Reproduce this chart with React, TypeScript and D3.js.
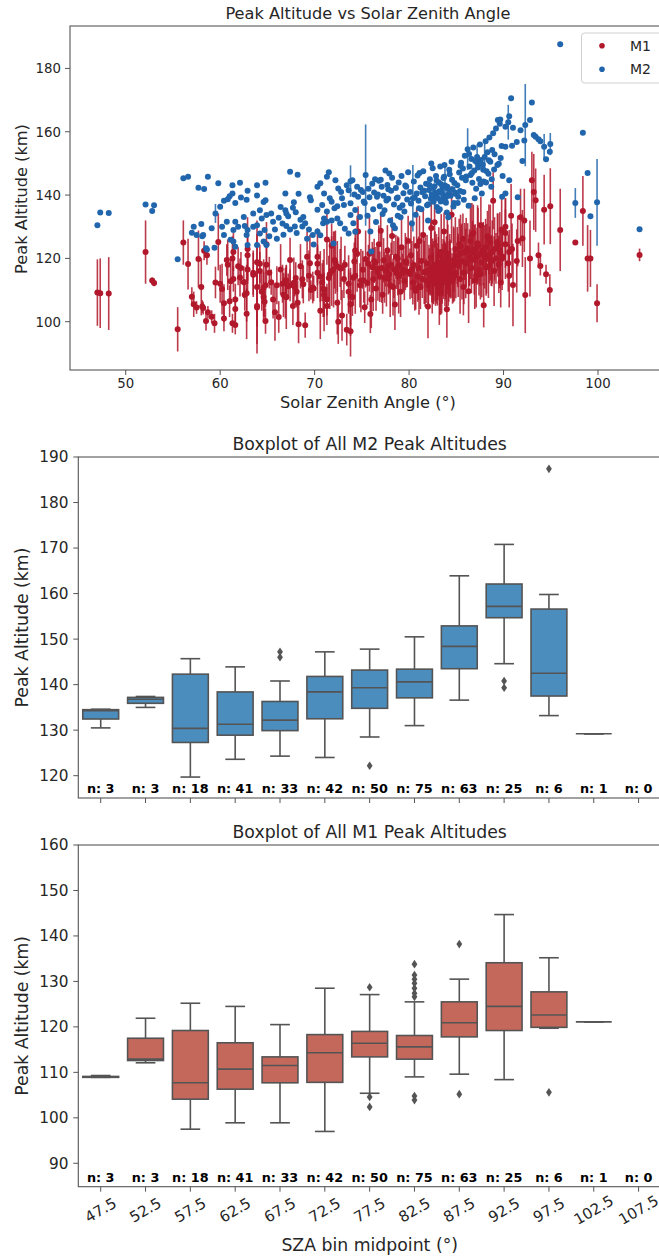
import React from "react";
import * as d3 from "d3";

// [SZA, M1 altitude, M1 error, M2 altitude, M2 error]
const OBS: number[][] = [
  [47.0, 109.2, 10.5, 130.5, 0], [47.3, 109.0, 11, 134.5, 0], [48.2, 108.9, 11.5, 134.3, 0],
  [52.1, 122.0, 10, 137.0, 0], [52.8, 113.0, 1, 135.0, 0], [53.0, 112.2, 1, 136.8, 0],
  [55.5, 97.6, 7, 119.7, 0], [56.1, 125.0, 7, 145.3, 0], [56.6, 118.2, 8, 145.8, 0],
  [57.0, 107.9, 3, 128.1, 0], [57.2, 105.5, 4, 130.0, 0], [57.5, 104.5, 2, 127.4, 0],
  [57.7, 119.8, 9, 142.3, 0], [58.0, 111.0, 9, 130.9, 0], [58.1, 104.8, 2, 127.0, 0],
  [58.2, 104.3, 2, 127.4, 0], [58.3, 122.4, 3, 141.9, 0], [58.5, 100.2, 3, 123.2, 0],
  [58.6, 121.0, 3, 122.8, 0], [58.7, 103.0, 2, 145.8, 0], [59.1, 101.6, 2, 129.5, 0],
  [59.4, 99.5, 3, 123.4, 0], [59.5, 112.4, 5, 134.2, 3], [59.8, 125.2, 9, 143.7, 0],
  [60.0, 112.0, 6, 136.3, 0], [60.4, 101.0, 4, 138.2, 0], [60.8, 118.0, 8, 138.7, 0],
  [61.0, 106.5, 5, 139.6, 0], [61.3, 120.0, 7, 140.5, 0], [61.3, 99.5, 3, 143.1, 0],
  [62.1, 114.0, 6, 143.9, 0], [61.6, 104.0, 4, 137.5, 0], [62.2, 117.0, 5, 139.2, 0],
  [62.8, 109.0, 9, 138.5, 0], [62.9, 123.0, 10, 141.4, 0], [63.9, 105.0, 12, 143.1, 0],
  [64.8, 111.5, 7, 143.9, 0], [63.9, 118.8, 9, 139.9, 0], [64.6, 107.8, 8, 137.8, 0],
  [64.2, 116.0, 6, 135.2, 0], [64.8, 100.2, 4, 138.4, 0], [60.2, 110.3, 8, 130.0, 0],
  [60.7, 119.5, 5, 131.6, 0], [60.4, 105.8, 6, 127.4, 0], [61.4, 113.5, 4, 129.0, 0],
  [61.6, 99.0, 3, 131.6, 0], [61.9, 117.5, 6, 130.0, 0], [62.6, 108.5, 5, 130.2, 0],
  [62.9, 121.0, 9, 129.0, 0], [62.8, 102.5, 8, 127.4, 0], [63.5, 115.5, 7, 130.0, 0],
  [63.9, 111.0, 21, 130.5, 0], [64.2, 118.3, 6, 127.9, 0], [64.7, 106.3, 5, 129.0, 0],
  [61.1, 112.8, 7, 125.9, 0], [61.4, 122.0, 6, 125.3, 0], [61.6, 107.0, 5, 123.7, 0],
  [62.9, 116.5, 8, 124.2, 0], [63.9, 104.5, 6, 124.2, 0], [64.6, 110.7, 9, 125.3, 0],
  [64.9, 124.5, 7, 124.2, 0], [64.4, 109.5, 6, 132.6, 0], [63.5, 114.8, 7, 134.2, 0],
  [62.5, 112.5, 5, 133.1, 0], [64.9, 118.0, 6, 133.7, 0],
  [67.4, 111.5, 5, 147.4, 0], [68.2, 106.0, 7, 146.4, 0], [66.9, 113.0, 4, 140.5, 0],
  [68.3, 99.2, 6, 140.4, 0], [69.5, 118.5, 9, 139.3, 0], [69.6, 110.0, 3, 138.4, 0],
  [67.8, 112.3, 8, 137.7, 0], [67.7, 105.0, 6, 136.0, 0], [68.0, 113.8, 5, 134.6, 0],
  [66.9, 108.0, 7, 135.2, 0], [67.2, 111.2, 4, 133.3, 0], [66.4, 116.5, 8, 136.2, 0],
  [66.2, 101.5, 5, 132.8, 0], [66.6, 112.0, 6, 131.0, 0], [67.0, 107.7, 10, 130.2, 0],
  [67.4, 119.5, 7, 129.1, 0], [67.9, 111.0, 3, 130.1, 0], [68.1, 109.5, 5, 128.0, 0],
  [68.7, 113.4, 6, 130.1, 0], [69.0, 98.9, 4, 131.1, 0], [69.4, 114.5, 8, 129.1, 0],
  [69.8, 110.8, 5, 127.4, 0], [68.5, 117.5, 7, 132.2, 0], [65.6, 107.0, 6, 131.6, 0],
  [65.4, 112.5, 4, 134.2, 0], [65.8, 103.0, 9, 129.1, 0], [65.2, 115.5, 5, 127.0, 0],
  [66.0, 111.5, 6, 126.2, 0], [66.7, 108.5, 7, 127.5, 0], [69.2, 120.5, 8, 126.2, 0],
  [69.9, 110.5, 4, 124.4, 0], [67.0, 113.0, 5, 134.2, 0], [68.8, 111.8, 6, 133.1, 0],
  [70.6, 114.3, 8, 143.7, 0], [71.3, 105.0, 6, 145.8, 0], [72.2, 118.8, 10, 144.7, 0],
  [73.4, 97.5, 5, 143.1, 0], [73.6, 112.0, 9, 141.5, 0], [74.5, 121.5, 12, 142.6, 0],
  [71.0, 108.5, 7, 140.5, 0], [71.8, 116.0, 11, 137.9, 0], [72.9, 102.0, 8, 139.0, 0],
  [73.1, 113.5, 6, 136.9, 0], [72.1, 119.5, 9, 135.8, 0], [71.3, 107.0, 5, 134.8, 0],
  [70.3, 115.5, 8, 135.4, 0], [71.0, 110.0, 13, 132.6, 0], [71.8, 124.0, 7, 132.0, 0],
  [72.4, 106.0, 10, 132.6, 0], [72.7, 117.0, 6, 131.1, 0], [73.8, 97.0, 8, 133.7, 0],
  [74.1, 114.0, 9, 131.1, 0], [74.8, 111.5, 7, 133.1, 0], [70.3, 118.3, 6, 128.5, 0],
  [70.6, 103.5, 9, 127.3, 0], [72.0, 116.5, 12, 124.7, 0], [73.6, 109.5, 7, 127.9, 0],
  [74.6, 128.5, 8, 139.5, 0], [74.9, 113.0, 10, 141.6, 0], [74.0, 107.8, 6, 144.7, 0],
  [70.3, 120.5, 9, 142.6, 0], [72.5, 100.0, 7, 142.1, 0], [71.6, 115.0, 11, 139.0, 0],
  [70.8, 112.5, 6, 136.9, 0], [72.4, 117.5, 8, 136.5, 0], [73.8, 105.5, 10, 137.4, 0],
  [74.3, 122.5, 7, 135.3, 0], [70.9, 110.5, 9, 131.1, 0], [73.2, 118.0, 6, 129.4, 0],
  [74.3, 114.5, 12, 128.4, 0], [71.3, 126.0, 8, 131.6, 0], [73.8, 108.0, 9, 144.4, 5],
  [71.5, 113.8, 7, 147.2, 0], [72.8, 116.8, 10, 141.0, 0], [74.2, 119.0, 6, 140.2, 0],
  [75.1, 116.4, 6, 141.0, 0], [75.3, 104.6, 5, 137.5, 0], [75.4, 119.8, 9, 146.3, 16],
  [75.6, 112.2, 7, 133.5, 0], [75.8, 121.5, 12, 139.3, 0], [75.9, 102.4, 6, 128.5, 0],
  [76.1, 117.2, 8, 143.6, 0], [76.2, 113.4, 10, 135.5, 0], [76.4, 118.6, 5, 145.0, 0],
  [76.5, 110.5, 7, 131.5, 0], [76.7, 115.6, 9, 140.2, 0], [76.8, 124.5, 6, 144.5, 0],
  [76.9, 114.2, 8, 136.5, 0], [77.1, 117.0, 11, 142.6, 0], [77.2, 108.5, 6, 134.0, 0],
  [77.3, 119.4, 7, 139.8, 0], [77.5, 116.1, 5, 147.8, 0], [77.6, 113.8, 9, 138.3, 0],
  [77.7, 122.5, 8, 143.2, 0], [77.9, 115.0, 6, 146.8, 0], [78.0, 111.5, 10, 132.0, 0],
  [78.1, 118.0, 7, 141.4, 0], [78.2, 127.1, 6, 145.5, 0], [78.4, 116.5, 9, 137.0, 0],
  [78.5, 105.4, 8, 129.5, 0], [78.6, 120.5, 7, 142.2, 0], [78.7, 115.3, 5, 139.0, 0],
  [78.9, 114.6, 12, 144.0, 0], [79.0, 117.8, 6, 136.0, 0], [79.1, 109.5, 8, 133.0, 0],
  [79.2, 123.5, 10, 146.0, 0], [79.4, 116.3, 7, 140.6, 0], [79.5, 112.8, 6, 134.8, 0],
  [79.6, 119.0, 9, 143.0, 0], [79.8, 115.9, 5, 138.6, 0], [79.9, 125.5, 8, 147.2, 0],
  [75.2, 113.0, 7, 138.0, 0], [75.7, 118.3, 6, 142.0, 0], [76.0, 107.0, 9, 122.2, 0],
  [76.6, 116.8, 7, 139.5, 0], [77.0, 128.7, 5, 144.8, 0], [77.4, 114.0, 8, 135.2, 0],
  [77.8, 117.5, 6, 141.8, 0], [78.3, 111.0, 9, 130.5, 0], [78.8, 120.0, 7, 139.2, 0],
  [79.3, 115.5, 6, 136.8, 0], [79.7, 118.8, 8, 142.6, 0], [76.3, 119.2, 7, 140.8, 0],
  [77.8, 113.6, 5, 138.8, 0], [78.8, 117.3, 9, 133.5, 0],
  [80.1, 115.1, 8, 141.0, 0], [80.2, 121.0, 11, 137.3, 0], [80.4, 112.4, 7, 139.0, 10.5],
  [80.5, 117.9, 9, 144.3, 0], [80.7, 109.8, 6, 133.8, 0], [80.8, 124.0, 12, 140.5, 0],
  [80.9, 114.3, 8, 146.2, 0], [81.0, 116.9, 10, 138.2, 0], [81.2, 111.0, 7, 142.4, 0],
  [81.3, 119.2, 9, 135.5, 0], [81.4, 113.5, 6, 140.9, 0], [81.5, 127.4, 8, 147.5, 0],
  [81.7, 115.7, 11, 139.6, 0], [81.8, 112.9, 7, 143.6, 0], [81.9, 118.4, 9, 136.8, 0],
  [82.0, 104.8, 10, 132.0, 0], [82.1, 116.3, 8, 141.6, 0], [82.2, 114.7, 6, 145.0, 0],
  [82.3, 120.3, 12, 138.8, 0], [82.4, 113.1, 7, 140.2, 0], [82.5, 117.3, 9, 148.5, 0],
  [82.6, 115.5, 10, 137.9, 0], [82.7, 131.4, 8, 142.8, 0], [82.8, 112.0, 7, 139.4, 0],
  [82.9, 116.7, 11, 144.6, 0], [83.0, 114.1, 9, 140.6, 0], [83.1, 118.8, 8, 135.0, 0],
  [83.2, 109.0, 10, 141.2, 0], [83.3, 115.9, 7, 149.0, 0], [83.4, 122.0, 12, 143.4, 0],
  [83.5, 113.7, 8, 138.5, 0], [83.6, 117.1, 9, 140.0, 0], [83.7, 128.5, 6, 145.8, 0],
  [83.8, 114.9, 10, 143.0, 6], [83.9, 116.1, 8, 137.6, 0], [84.0, 103.9, 9, 134.5, 0],
  [84.1, 119.7, 11, 142.0, 0], [84.2, 113.3, 7, 140.4, 0], [84.3, 117.7, 10, 146.6, 0],
  [84.4, 115.3, 8, 139.8, 0], [84.5, 133.8, 9, 150.5, 0], [84.6, 112.7, 7, 141.8, 0],
  [84.7, 118.1, 12, 136.4, 0], [84.8, 114.5, 8, 143.8, 0], [84.9, 123.0, 10, 140.7, 0],
  [80.3, 116.5, 9, 131.0, 0], [80.6, 110.5, 7, 139.2, 0], [81.1, 125.5, 8, 147.0, 0],
  [81.6, 115.6, 10, 141.4, 0], [82.05, 111.5, 6, 137.1, 0], [82.35, 129.6, 9, 150.0, 0],
  [82.55, 113.9, 8, 142.2, 0], [82.75, 117.5, 11, 140.8, 0], [82.95, 114.0, 7, 136.2, 0],
  [83.15, 120.8, 9, 144.0, 0], [83.35, 112.2, 10, 138.0, 0], [83.55, 116.6, 8, 142.5, 0],
  [83.75, 118.6, 7, 149.5, 0], [83.95, 115.0, 12, 139.5, 0], [84.15, 113.0, 8, 133.0, 0],
  [84.35, 117.0, 9, 141.5, 0], [84.55, 114.6, 7, 144.8, 0], [84.75, 119.5, 10, 137.5, 0],
  [84.95, 115.4, 8, 140.3, 0], [81.05, 111.2, 9, 135.8, 0], [82.15, 116.2, 7, 143.2, 0],
  [82.45, 113.6, 11, 140.1, 0], [82.85, 118.0, 8, 146.0, 0], [83.05, 115.8, 9, 139.0, 0],
  [83.25, 110.2, 8, 135.5, 0], [83.45, 112.6, 10, 141.0, 0], [83.65, 114.2, 7, 145.4, 0],
  [83.85, 116.0, 9, 138.0, 0], [84.05, 121.5, 11, 142.6, 0], [84.25, 117.4, 8, 148.0, 0],
  [85.1, 120.9, 9, 143.1, 0], [85.2, 117.8, 10, 139.5, 0], [85.3, 124.5, 8, 147.1, 0],
  [85.4, 113.5, 11, 141.3, 0], [85.5, 121.6, 9, 150.2, 0], [85.6, 119.0, 12, 145.5, 0],
  [85.7, 126.2, 8, 148.4, 0], [85.8, 115.5, 10, 138.5, 0], [85.9, 122.2, 9, 152.4, 0],
  [86.0, 118.4, 11, 144.7, 0], [86.2, 123.1, 8, 154.5, 6.6], [86.3, 109.6, 10, 136.6, 0],
  [86.4, 120.2, 9, 149.0, 0], [86.5, 125.5, 12, 146.3, 0], [86.6, 117.0, 8, 151.4, 0],
  [86.7, 121.9, 10, 143.9, 0], [86.8, 128.0, 9, 155.0, 0], [86.9, 119.6, 11, 147.8, 0],
  [87.0, 122.8, 8, 150.8, 0], [87.1, 114.5, 10, 142.0, 0], [87.2, 120.7, 9, 152.0, 4],
  [87.3, 124.0, 12, 148.7, 0], [87.4, 116.3, 8, 145.1, 0], [87.5, 121.3, 10, 156.0, 0],
  [87.6, 130.5, 9, 151.1, 0], [87.7, 118.7, 11, 140.5, 0], [87.8, 122.5, 8, 149.6, 0],
  [87.9, 105.2, 7, 144.3, 0], [88.0, 120.5, 10, 152.0, 5], [88.1, 123.5, 9, 157.0, 0],
  [88.2, 119.9, 11, 147.5, 0], [88.3, 127.0, 8, 153.5, 0], [88.4, 117.5, 10, 146.7, 0],
  [88.5, 121.1, 9, 158.2, 0], [88.6, 125.0, 12, 150.5, 0], [88.7, 119.3, 8, 142.6, 0],
  [88.8, 122.0, 10, 154.2, 0], [88.9, 138.2, 9, 159.5, 0], [89.0, 116.0, 11, 148.1, 0],
  [89.2, 120.0, 8, 161.0, 0], [89.4, 124.2, 10, 163.7, 0], [89.5, 118.1, 9, 149.9, 0],
  [89.6, 122.6, 12, 162.5, 0], [89.7, 112.5, 8, 151.7, 0], [89.8, 129.0, 10, 155.5, 0],
  [89.9, 120.6, 9, 146.0, 0], [85.15, 118.9, 8, 137.5, 0], [85.45, 123.8, 10, 149.3, 0],
  [85.75, 111.0, 9, 141.0, 0], [86.05, 121.8, 11, 145.9, 0], [86.35, 119.5, 8, 153.0, 0],
  [86.65, 127.5, 10, 147.0, 0], [86.95, 113.0, 9, 139.0, 0], [87.25, 124.8, 12, 150.0, 0],
  [87.55, 115.0, 8, 143.5, 0], [87.85, 121.5, 10, 148.0, 0], [88.15, 117.2, 9, 144.0, 0],
  [88.45, 126.0, 11, 151.0, 0], [88.75, 119.2, 8, 145.0, 0], [89.05, 123.0, 10, 152.9, 0],
  [89.35, 125.2, 9, 149.5, 0], [89.65, 122.0, 8, 163.9, 0], [89.85, 120.0, 10, 139.5, 0],
  [90.8, 133.5, 10, 170.6, 0], [93.0, 144.7, 9, 169.2, 0], [90.6, 114.5, 10, 164.9, 0],
  [92.8, 120.0, 12, 163.7, 0], [90.2, 124.5, 11, 161.6, 0], [91.0, 111.6, 13, 161.3, 0],
  [91.8, 133.0, 9, 160.5, 0], [92.3, 108.4, 12, 162.1, 13], [93.4, 138.4, 10, 158.4, 0],
  [93.7, 121.0, 4, 157.6, 0], [93.9, 117.6, 3, 157.0, 0], [94.3, 135.4, 11, 155.3, 4],
  [94.95, 136.5, 12, 156.1, 3.5], [94.9, 110.0, 5, 153.7, 0], [94.5, 115.0, 3, 151.3, 0],
  [92.0, 126.3, 9, 150.8, 0], [90.9, 123.0, 8, 155.6, 0], [91.4, 119.2, 10, 156.8, 0],
  [90.2, 130.0, 9, 155.3, 0], [90.6, 122.0, 7, 144.7, 0], [90.2, 128.0, 11, 140.5, 0],
  [91.5, 125.5, 8, 139.3, 0], [90.5, 118.5, 9, 163.0, 5.5], [92.2, 132.0, 10, 157.2, 0],
  [93.2, 141.0, 12, 159.0, 0],
  [96.0, 129.0, 13, 187.6, 0], [97.6, 125.0, 0, 137.5, 4.7], [98.4, 135.0, 11, 159.7, 0],
  [98.9, 120.0, 10.5, 147.0, 0], [99.2, 120.0, 9, 133.3, 0], [99.9, 105.8, 6, 137.7, 13.7],
  [104.4, 121.1, 2, 129.2, 0],
];

const SERIES = ["M1", "M2"];
const SERIES_COLORS = ["#b2182b", "#2166ac"];
const SCATTER_X_TICKS = [50, 60, 70, 80, 90, 100];
const SCATTER_Y_TICKS = [100, 120, 140, 160, 180];

const BINS = ["47.5", "52.5", "57.5", "62.5", "67.5", "72.5", "77.5", "82.5", "87.5", "92.5", "97.5", "102.5", "107.5"];
const COUNTS = [3, 3, 18, 41, 33, 42, 50, 75, 63, 25, 6, 1, 0];

const M2_WLO = [130.5, 135.0, 119.7, 123.6, 124.3, 124.0, 128.5, 131.0, 136.6, 144.6, 133.2, 129.2];
const M2_Q1 = [132.45, 135.9, 127.3, 128.9, 129.9, 132.5, 134.8, 137.1, 143.5, 154.7, 137.5, 129.2];
const M2_MED = [134.3, 136.8, 130.4, 131.3, 132.2, 138.4, 139.3, 140.6, 148.4, 157.2, 142.5, 129.2];
const M2_Q3 = [134.5, 137.2, 142.3, 138.4, 136.3, 141.8, 143.2, 143.4, 152.9, 162.1, 156.6, 129.2];
const M2_WHI = [134.6, 137.4, 145.7, 143.9, 140.8, 147.2, 147.8, 150.5, 163.9, 170.8, 159.8, 129.2];
const M2_OUT = [[], [], [], [], [147.2, 146.0], [], [122.2], [], [], [140.8, 139.3], [187.4], []];
const M2_Y_TICKS = [120, 130, 140, 150, 160, 170, 180, 190];

const M1_WLO = [108.9, 112.1, 97.5, 98.9, 98.9, 97.0, 105.4, 109.0, 109.6, 108.4, 119.7, 121.1];
const M1_Q1 = [108.9, 112.6, 104.1, 106.3, 107.7, 107.8, 113.4, 112.9, 117.8, 119.2, 119.9, 121.1];
const M1_MED = [109.0, 112.9, 107.7, 110.7, 111.5, 114.3, 116.4, 115.6, 120.9, 124.5, 122.6, 121.1];
const M1_Q3 = [109.1, 117.5, 119.2, 116.5, 113.4, 118.3, 119.0, 118.1, 125.5, 134.1, 127.7, 121.1];
const M1_WHI = [109.3, 121.9, 125.2, 124.5, 120.5, 128.5, 127.1, 125.5, 130.5, 144.7, 135.2, 121.1];
const M1_OUT = [[], [], [], [], [], [], [128.7, 104.6, 102.4], [133.8, 131.4, 130.5, 129.6, 128.5, 127.4, 126.6, 104.8, 103.9], [138.2, 105.2], [], [105.6], []];
const M1_Y_TICKS = [90, 100, 110, 120, 130, 140, 150, 160];

const FONT = "DejaVu Sans, sans-serif";
const TEXT = "#262626";
const SPINE = "#555";
const BOX_LINE = "#545454";

function Scatter() {
  const L = 70, R = 666, T = 26, B = 370;
  const x = d3.scaleLinear().domain([44.1, 107.2]).range([L, R]);
  const y = d3.scaleLinear().domain([84.75, 193.4]).range([B, T]);
  const cols = [[1, 2], [3, 4]];
  return (
    <g>
      <text x={368} y={19} textAnchor="middle" fontSize={16.2} fill={TEXT}>Peak Altitude vs Solar Zenith Angle</text>
      {cols.map(([vi, ei], s) => (
        <g key={s}>
          {OBS.map((o, i) =>
            o[ei] > 0 ? (
              <line key={"e" + i} x1={x(o[0])} x2={x(o[0])} y1={y(o[vi] - o[ei])} y2={y(o[vi] + o[ei])}
                stroke={SERIES_COLORS[s]} strokeWidth={1.6} strokeOpacity={0.85} />
            ) : null
          )}
          {OBS.map((o, i) => (
            <circle key={"p" + i} cx={x(o[0])} cy={y(o[vi])} r={3} fill={SERIES_COLORS[s]} />
          ))}
        </g>
      ))}
      <rect x={L} y={T} width={R - L} height={B - T} fill="none" stroke={SPINE} strokeWidth={1.1} />
      {SCATTER_X_TICKS.map((t) => (
        <g key={t}>
          <line x1={x(t)} x2={x(t)} y1={B} y2={B + 5} stroke={SPINE} />
          <text x={x(t)} y={388} textAnchor="middle" fontSize={13.3} fill={TEXT}>{t}</text>
        </g>
      ))}
      {SCATTER_Y_TICKS.map((t) => (
        <g key={t}>
          <line x1={L - 5} x2={L} y1={y(t)} y2={y(t)} stroke={SPINE} />
          <text x={61} y={y(t) + 4.8} textAnchor="end" fontSize={13.3} fill={TEXT}>{t}</text>
        </g>
      ))}
      <text x={368} y={407.5} textAnchor="middle" fontSize={16.2} fill={TEXT}>Solar Zenith Angle (°)</text>
      <text transform={`translate(21,199) rotate(-90)`} textAnchor="middle" dominantBaseline="central" fontSize={16.2} fill={TEXT}>Peak Altitude (km)</text>
      <rect x={581.5} y={33} width={90} height={50} rx={3} fill="white" fillOpacity={0.8} stroke="#d0d0d0" />
      {SERIES.map((name, s) => (
        <g key={name}>
          <circle cx={602} cy={45.7 + s * 23.6} r={2.8} fill={SERIES_COLORS[s]} />
          <text x={630} y={50.8 + s * 23.6} fontSize={14} fill={TEXT}>{name}</text>
        </g>
      ))}
    </g>
  );
}

function Boxes(props: {
  top: number; bottom: number; domain: [number, number]; title: string; fill: string;
  wlo: number[]; q1: number[]; med: number[]; q3: number[]; whi: number[]; out: number[][];
  yTicks: number[]; showXLabels: boolean;
}) {
  const { top, bottom, domain, title, fill, wlo, q1, med, q3, whi, out, yTicks, showXLabels } = props;
  const L = 78.3, R = 661;
  const x = d3.scaleBand().domain(BINS).range([L, R]).padding(0);
  const y = d3.scaleLinear().domain(domain).range([bottom, top]);
  const bw = x.bandwidth() * 0.8;
  const cw = bw * 0.55;
  const diamond = (cx: number, cy: number) =>
    `M${cx},${cy - 4.3}L${cx + 2.9},${cy}L${cx},${cy + 4.3}L${cx - 2.9},${cy}Z`;
  return (
    <g>
      <text x={(L + R) / 2} y={top - 7.5} textAnchor="middle" fontSize={17.3} fill={TEXT}>{title}</text>
      {BINS.map((b, i) => {
        if (COUNTS[i] === 0 || q1[i] === undefined) return null;
        const cx = x(b)! + x.bandwidth() / 2;
        return (
          <g key={b}>
            <line x1={cx} x2={cx} y1={y(q3[i])} y2={y(whi[i])} stroke={BOX_LINE} strokeWidth={1.6} />
            <line x1={cx} x2={cx} y1={y(q1[i])} y2={y(wlo[i])} stroke={BOX_LINE} strokeWidth={1.6} />
            <line x1={cx - cw / 2} x2={cx + cw / 2} y1={y(whi[i])} y2={y(whi[i])} stroke={BOX_LINE} strokeWidth={1.6} />
            <line x1={cx - cw / 2} x2={cx + cw / 2} y1={y(wlo[i])} y2={y(wlo[i])} stroke={BOX_LINE} strokeWidth={1.6} />
            <rect x={cx - bw / 2} y={y(q3[i])} width={bw} height={Math.max(0, y(q1[i]) - y(q3[i]))}
              fill={fill} stroke={BOX_LINE} strokeWidth={1.6} />
            <line x1={cx - bw / 2} x2={cx + bw / 2} y1={y(med[i])} y2={y(med[i])} stroke={BOX_LINE} strokeWidth={1.6} />
            {out[i].map((v, k) => (
              <path key={k} d={diamond(cx, y(v))} fill={BOX_LINE} />
            ))}
          </g>
        );
      })}
      {BINS.map((b, i) => (
        <text key={"n" + b} x={x(b)! + x.bandwidth() / 2} y={bottom - 5} textAnchor="middle"
          fontSize={12.8} fontWeight="bold" fill="#000">{`n: ${COUNTS[i]}`}</text>
      ))}
      <rect x={L} y={top} width={R - L} height={bottom - top} fill="none" stroke={SPINE} strokeWidth={1.1} />
      {BINS.map((b) => {
        const cx = x(b)! + x.bandwidth() / 2;
        return (
          <g key={"t" + b}>
            <line x1={cx} x2={cx} y1={bottom} y2={bottom + 5} stroke={SPINE} />
            {showXLabels ? (
              <text transform={`translate(${cx},${bottom + 23.5}) rotate(-30)`} textAnchor="middle"
                dominantBaseline="central" fontSize={15} fill={TEXT}>{b}</text>
            ) : null}
          </g>
        );
      })}
      {yTicks.map((t) => (
        <g key={t}>
          <line x1={L - 5} x2={L} y1={y(t)} y2={y(t)} stroke={SPINE} />
          <text x={68.5} y={y(t) + 5.4} textAnchor="end" fontSize={15.3} fill={TEXT}>{t}</text>
        </g>
      ))}
      <text transform={`translate(22,${(top + bottom) / 2}) rotate(-90)`} textAnchor="middle"
        dominantBaseline="central" fontSize={17.3} fill={TEXT}>Peak Altitude (km)</text>
    </g>
  );
}

export default function App() {
  return (
    <svg width={659} height={1258} style={{ position: "absolute", left: 0, top: 0, fontFamily: FONT }}>
      <rect width={659} height={1258} fill="white" />
      <Scatter />
      <Boxes top={457} bottom={798} domain={[115.1, 190]} title="Boxplot of All M2 Peak Altitudes" fill="#4b8dbc"
        wlo={M2_WLO} q1={M2_Q1} med={M2_MED} q3={M2_Q3} whi={M2_WHI} out={M2_OUT} yTicks={M2_Y_TICKS} showXLabels={false} />
      <Boxes top={845} bottom={1186.7} domain={[84.85, 160]} title="Boxplot of All M1 Peak Altitudes" fill="#c4685c"
        wlo={M1_WLO} q1={M1_Q1} med={M1_MED} q3={M1_Q3} whi={M1_WHI} out={M1_OUT} yTicks={M1_Y_TICKS} showXLabels={true} />
      <text x={369.7} y={1251} textAnchor="middle" fontSize={17.3} fill={TEXT} fontFamily={FONT}>SZA bin midpoint (°)</text>
    </svg>
  );
}
